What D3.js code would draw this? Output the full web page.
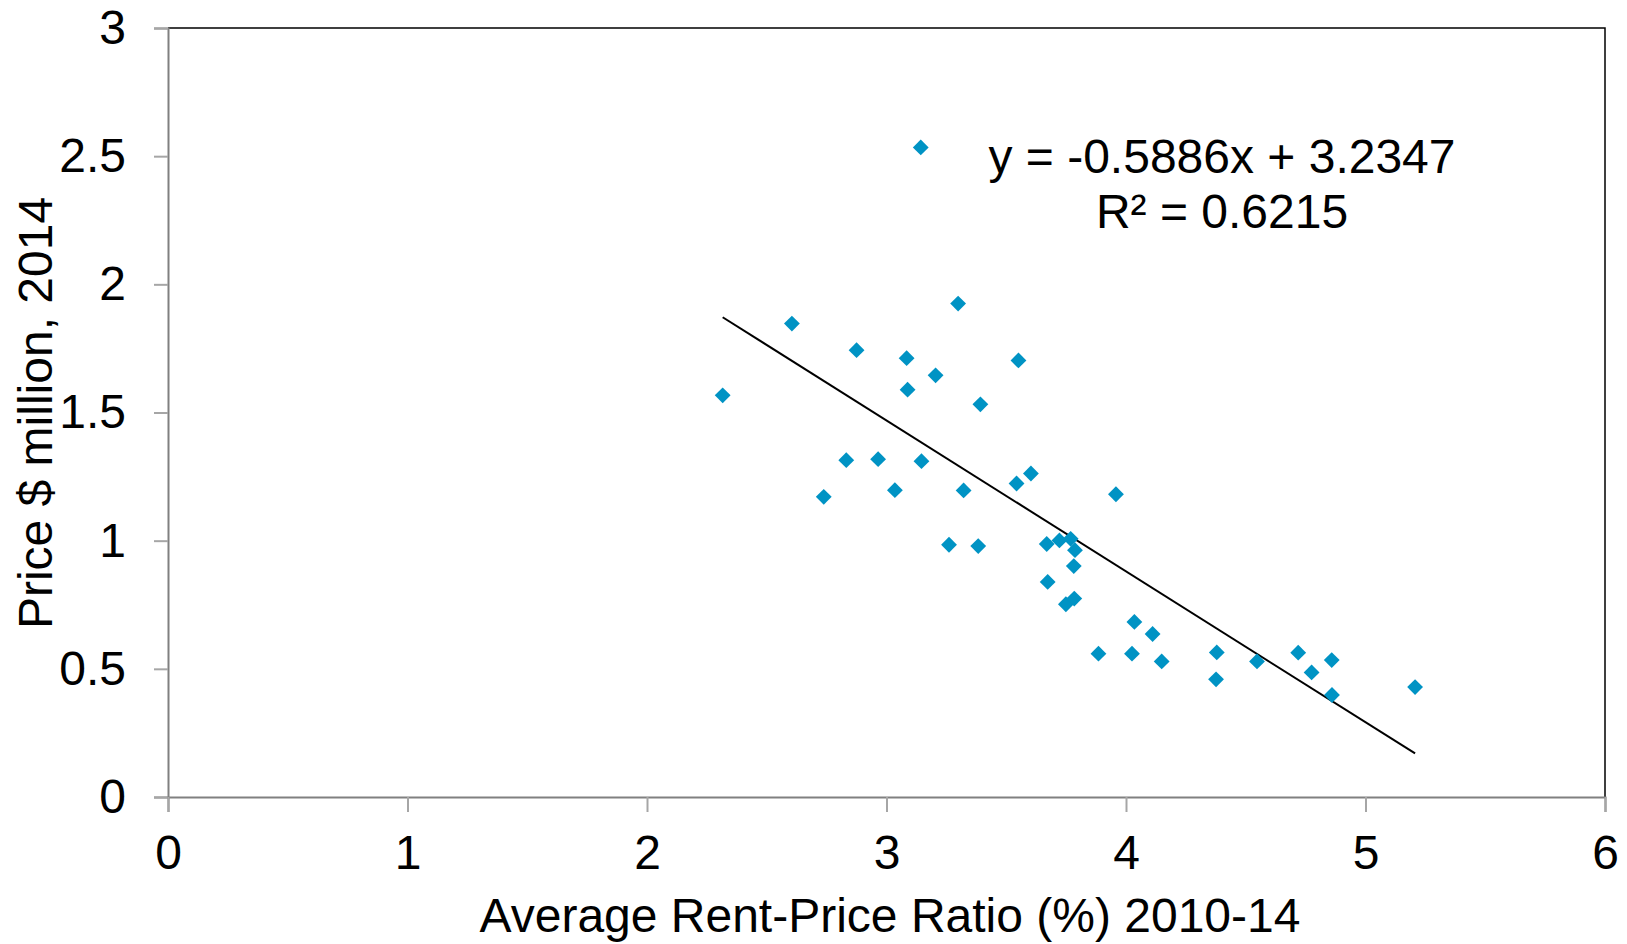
<!DOCTYPE html>
<html>
<head>
<meta charset="utf-8">
<script src="https://cdn.jsdelivr.net/npm/d3@7"></script>
<style>
  html, body { margin: 0; padding: 0; background: #fff; }
  svg { display: block; font-family: "Liberation Sans", Arial, sans-serif; }
</style>
</head>
<body>
<svg id="chart" width="1627" height="944"></svg>
<script>
// Average rent-price ratio (%) 2010-14 for each market
const rentPriceRatio = [
  2.316, 2.605, 2.875, 3.143, 3.299, 3.084, 3.205, 3.088, 3.551, 3.392,
  2.832, 2.965, 3.146, 2.738, 3.035, 3.322, 3.543, 3.603, 3.958, 3.261,
  3.383, 3.669, 3.722, 3.769, 3.787, 3.782, 3.673, 3.749, 3.784, 3.885,
  4.025, 4.035, 4.111, 4.149, 4.379, 4.376, 4.547, 4.719, 4.775, 4.859,
  4.860, 5.207
];
// Price, $ million, 2014 for the same markets
const price2014 = [
  1.567, 1.847, 1.743, 2.534, 1.925, 1.712, 1.645, 1.589, 1.703, 1.532,
  1.314, 1.318, 1.310, 1.171, 1.197, 1.196, 1.223, 1.262, 1.181, 0.984,
  0.979, 0.987, 1.001, 1.007, 0.963, 0.901, 0.839, 0.752, 0.774, 0.559,
  0.559, 0.683, 0.636, 0.529, 0.564, 0.459, 0.529, 0.563, 0.486, 0.534,
  0.398, 0.429
];
// Linear trend fitted to the points
const trendSlope = -0.5886;
const trendIntercept = 3.2347;
const trendR2 = 0.6215;

const xTicks = [0, 1, 2, 3, 4, 5, 6];
const yTicks = [0, 0.5, 1, 1.5, 2, 2.5, 3];
const xTitle = "Average Rent-Price Ratio (%) 2010-14";
const yTitle = "Price $ million, 2014";

const svg = d3.select("#chart");
const plot = { left: 168, right: 1605, top: 28, bottom: 797 };

const x = d3.scaleLinear().domain([0, 6]).range([plot.left, plot.right]);
const y = d3.scaleLinear().domain([0, 3]).range([plot.bottom, plot.top]);

const axisGrey = "#808080";
const tickGrey = "#a6a6a6";
const fontSize = 48;

// Frame: black top and right edges
svg.append("path")
  .attr("d", `M${plot.left},${plot.top}H${plot.right}V${plot.bottom}`)
  .attr("fill", "none").attr("stroke", "#000").attr("stroke-width", 1.5);

// Y axis
const yAxis = svg.append("g")
  .attr("transform", `translate(${plot.left},0)`)
  .call(d3.axisLeft(y).tickValues(yTicks).tickSize(14).tickPadding(28)
    .tickFormat(d => String(d)));
yAxis.select(".domain").attr("stroke", axisGrey).attr("stroke-width", 2);
yAxis.selectAll(".tick line").attr("stroke", tickGrey).attr("stroke-width", 2);
yAxis.selectAll(".tick text")
  .attr("font-size", fontSize).attr("fill", "#000")
  .attr("font-family", "Liberation Sans, Arial, sans-serif");

// X axis
const xAxis = svg.append("g")
  .attr("transform", `translate(0,${plot.bottom})`)
  .call(d3.axisBottom(x).tickValues(xTicks).tickSize(15).tickPadding(23)
    .tickFormat(d => String(d)));
xAxis.select(".domain").attr("stroke", axisGrey).attr("stroke-width", 2);
xAxis.selectAll(".tick line").attr("stroke", tickGrey).attr("stroke-width", 2);
xAxis.selectAll(".tick text")
  .attr("font-size", fontSize).attr("fill", "#000")
  .attr("font-family", "Liberation Sans, Arial, sans-serif");

// Axis titles
svg.append("text")
  .attr("x", 890).attr("y", 932)
  .attr("text-anchor", "middle")
  .attr("font-size", fontSize)
  .text(xTitle);

svg.append("text")
  .attr("transform", "translate(52,413) rotate(-90)")
  .attr("text-anchor", "middle")
  .attr("font-size", fontSize)
  .text(yTitle);

// Trend line across the observed range
const xExtent = d3.extent(rentPriceRatio);
const trend = xExtent.map(v => [v, trendSlope * v + trendIntercept]);
svg.append("path")
  .datum(trend)
  .attr("d", d3.line().x(d => x(d[0])).y(d => y(d[1])))
  .attr("fill", "none").attr("stroke", "#000").attr("stroke-width", 2);

// Diamond markers
const points = rentPriceRatio.map((v, i) => ({ rx: v, p: price2014[i] }));
const diamond = d3.symbol().type(d3.symbolSquare).size(125);
svg.append("g")
  .selectAll("path")
  .data(points)
  .join("path")
  .attr("d", diamond)
  .attr("transform", d => `translate(${x(d.rx)},${y(d.p)}) rotate(45)`)
  .attr("fill", "#0093C4");

// Trend equation label
const eq = svg.append("text")
  .attr("text-anchor", "middle")
  .attr("font-size", fontSize);
eq.append("tspan").attr("x", 1222).attr("y", 173)
  .text(`y = ${trendSlope.toFixed(4)}x + ${trendIntercept.toFixed(4)}`);
eq.append("tspan").attr("x", 1222).attr("y", 228)
  .text(`R² = ${trendR2.toFixed(4)}`);
</script>
</body>
</html>
